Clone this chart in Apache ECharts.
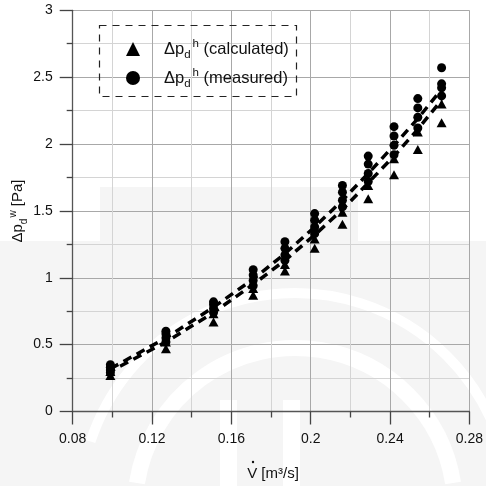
<!DOCTYPE html>
<html>
<head>
<meta charset="utf-8">
<script src="https://cdn.jsdelivr.net/npm/echarts@6/dist/echarts.min.js"></script>
<style>
  html, body { margin: 0; padding: 0; background: #ffffff; }
  #chart { width: 486px; height: 486px; }
</style>
</head>
<body>
<div id="chart"></div>
<script>
// Volume flow rates of each measurement group [m³/s]
const flowRates = [0.099, 0.127, 0.151, 0.171, 0.187, 0.202, 0.216, 0.229, 0.242, 0.254, 0.266];

// Calculated pressure differences [Pa] (two runs per flow rate)
const calculatedA = [0.27, 0.47, 0.67, 0.87, 1.05, 1.22, 1.40, 1.59, 1.77, 1.96, 2.16];
const calculatedB = [0.30, 0.52, 0.73, 0.92, 1.10, 1.29, 1.49, 1.69, 1.89, 2.09, 2.30];

// Measured pressure differences [Pa] (four runs per flow rate)
const measuredA = [0.35, 0.60, 0.82, 1.06, 1.27, 1.48, 1.69, 1.91, 2.13, 2.34, 2.57];
const measuredB = [0.33, 0.58, 0.80, 1.02, 1.22, 1.43, 1.64, 1.85, 2.06, 2.27, 2.45];
const measuredC = [0.31, 0.55, 0.77, 0.98, 1.17, 1.38, 1.58, 1.78, 1.99, 2.20, 2.42];
const measuredD = [0.29, 0.52, 0.74, 0.94, 1.13, 1.33, 1.53, 1.72, 1.92, 2.12, 2.36];

// Trend lines through both data sets [Pa]
const trendMeasured   = [0.32, 0.55, 0.78, 0.99, 1.18, 1.38, 1.58, 1.78, 1.99, 2.19, 2.41];
const trendCalculated = [0.30, 0.52, 0.74, 0.95, 1.13, 1.32, 1.51, 1.71, 1.91, 2.11, 2.33];

// Axis tick labels
const xTicks = ['0.08', '0.12', '0.16', '0.2', '0.24', '0.28'];
const yTicks = ['0', '0.5', '1', '1.5', '2', '2.5', '3'];

const pairs = (ys) => flowRates.map((x, i) => [x, ys[i]]);
const pairsMany = (list) => list.flatMap(pairs);

const FONT = '"Liberation Sans", Arial, sans-serif';

const chart = echarts.init(document.getElementById('chart'), null, { renderer: 'canvas' });

const legendRich = {
  sp:  { width: 19, lineHeight: 26 },
  a:   { fontFamily: FONT, fontSize: 16.5, color: '#111', lineHeight: 26, verticalAlign: 'middle' },
  sub: { fontFamily: FONT, fontSize: 11.5, color: '#111', lineHeight: 26, verticalAlign: 'bottom', padding: [0, 0, 1, 0] },
  sup: { fontFamily: FONT, fontSize: 11.5, color: '#111', lineHeight: 26, verticalAlign: 'top', padding: [2, 0, 0, 2] }
};

const axisCommon = {
  axisLine: { show: true, onZero: false, lineStyle: { color: '#555', width: 1.3 } },
  axisTick: { show: true, length: 13, lineStyle: { color: '#444', width: 1.3 } },
  minorTick: { show: true, splitNumber: 2, length: 6, lineStyle: { color: '#444', width: 1.3 } },
  splitLine: { show: true, lineStyle: { color: '#a8a8a8', width: 1 } },
  minorSplitLine: { show: true, lineStyle: { color: '#d4d4d4', width: 1 } }
};

const option = {
  backgroundColor: '#ffffff',
  animation: false,
  grid: { left: 72.7, right: 13, top: 10.3, bottom: 74.5, containLabel: false },
  xAxis: Object.assign({
    type: 'value', min: 0.08, max: 0.28, interval: 0.04,
    axisLabel: {
      color: '#111', fontFamily: FONT, fontSize: 14, margin: 21,
      formatter: (v) => xTicks.find((t) => Math.abs(parseFloat(t) - v) < 1e-6) || ''
    }
  }, axisCommon),
  yAxis: Object.assign({
    type: 'value', min: 0, max: 3, interval: 0.5,
    axisLabel: {
      color: '#111', fontFamily: FONT, fontSize: 14, margin: 20,
      formatter: (v) => yTicks.find((t) => Math.abs(parseFloat(t) - v) < 1e-6) || ''
    }
  }, axisCommon),
  legend: {
    data: ['calc', 'meas'],
    orient: 'vertical',
    left: 126, top: 36, padding: 0,
    itemWidth: 14, itemHeight: 14, itemGap: 3,
    textStyle: { rich: legendRich },
    formatter: (name) => name === 'calc'
      ? '{sp| }{a|Δp}{sub|d}{sup|h}{a| (calculated)}'
      : '{sp| }{a|Δp}{sub|d}{sup|h}{a| (measured)}'
  },
  graphic: [
    // pale background emblem
    { type: 'rect', z: -10, silent: true, shape: { x: 100, y: 187, width: 258, height: 300 }, style: { fill: '#f5f5f5' } },
    { type: 'rect', z: -10, silent: true, shape: { x: 0, y: 241, width: 486, height: 245 }, style: { fill: '#f5f5f5' } },
    { type: 'arc', z: -9, silent: true, shape: { cx: 295, cy: 508, r: 160, startAngle: Math.PI * 1.05, endAngle: Math.PI * 1.95 }, style: { stroke: '#ffffff', lineWidth: 16, fill: null } },
    { type: 'arc', z: -9, silent: true, shape: { cx: 295, cy: 508, r: 215, startAngle: Math.PI * 1.1, endAngle: Math.PI * 1.9 }, style: { stroke: '#ffffff', lineWidth: 10, fill: null } },
    { type: 'rect', z: -9, silent: true, shape: { x: 220, y: 400, width: 17, height: 90 }, style: { fill: '#ffffff' } },
    { type: 'rect', z: -9, silent: true, shape: { x: 283, y: 400, width: 17, height: 90 }, style: { fill: '#ffffff' } },
    // dashed legend frame
    { type: 'rect', z: 5, silent: true, shape: { x: 99.5, y: 25.5, width: 197, height: 71 },
      style: { fill: null, stroke: '#222', lineWidth: 1.2, lineDash: [7, 6] } },
    // y axis title
    { type: 'text', z: 5, x: 18, y: 211, rotation: Math.PI / 2,
      style: {
        text: '{a|Δp}{sub|d}{sup|w}{a| [Pa]}', align: 'center', verticalAlign: 'middle',
        rich: {
          a:   { fontFamily: FONT, fontSize: 15, fill: '#111', lineHeight: 24, verticalAlign: 'middle' },
          sub: { fontFamily: FONT, fontSize: 10, fill: '#111', lineHeight: 24, verticalAlign: 'bottom', padding: [0, 0, 1, 0] },
          sup: { fontFamily: FONT, fontSize: 10, fill: '#111', lineHeight: 24, verticalAlign: 'top', padding: [2, 0, 0, 1] }
        }
      } },
    // x axis title
    { type: 'text', z: 5, x: 273, y: 474,
      style: { text: 'V [m³/s]', align: 'center', verticalAlign: 'middle', fontFamily: FONT, fontSize: 15, fill: '#111' } },
    { type: 'circle', z: 5, shape: { cx: 253, cy: 462, r: 1.2 }, style: { fill: '#111' } }
  ],
  series: [
    {
      name: 'trendMeasured', type: 'line', data: pairs(trendMeasured), symbol: 'none', z: 3,
      lineStyle: { color: '#000', width: 3.5, type: [9, 6] }, silent: true
    },
    {
      name: 'trendCalculated', type: 'line', data: pairs(trendCalculated), symbol: 'none', z: 3,
      lineStyle: { color: '#000', width: 3.5, type: [9, 6], dashOffset: 4 }, silent: true
    },
    {
      name: 'calc', type: 'scatter', data: pairsMany([calculatedA, calculatedB]),
      symbol: 'triangle', symbolSize: [10, 9], itemStyle: { color: '#000', opacity: 1 }, z: 4
    },
    {
      name: 'meas', type: 'scatter', data: pairsMany([measuredA, measuredB, measuredC, measuredD]),
      symbol: 'circle', symbolSize: 9, itemStyle: { color: '#000', opacity: 1 }, z: 4
    }
  ]
};

chart.setOption(option);
</script>
</body>
</html>
